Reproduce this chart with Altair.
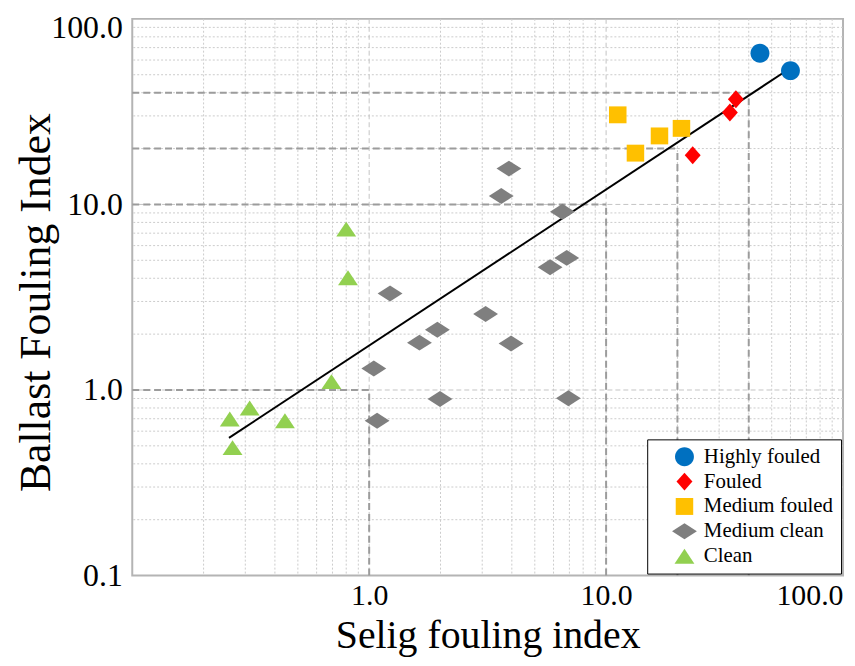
import altair as alt
import pandas as pd

# ---- data ----
categories = ["Highly fouled", "Fouled", "Medium fouled", "Medium clean", "Clean"]
colors = ["#0070C0", "#FF0000", "#FFC000", "#7F7F7F", "#92D050"]

highly_x = [44.6, 60.0]
highly_y = [65.3, 52.6]
fouled_x = [35.3, 33.3, 23.2]
fouled_y = [36.9, 31.3, 18.4]
mfouled_x = [11.2, 13.3, 16.8, 20.8]
mfouled_y = [30.4, 18.9, 23.4, 25.7]
mclean_x = [3.89, 3.61, 6.54, 6.82, 5.80, 1.225, 3.10, 1.94, 1.63, 3.97, 1.046, 1.99, 6.93, 1.08]
mclean_y = [15.6, 11.1, 9.14, 5.15, 4.59, 3.31, 2.57, 2.11, 1.80, 1.78, 1.306, 0.895, 0.903, 0.683]
clean_x = [0.80, 0.814, 0.693, 0.313, 0.258, 0.441, 0.265]
clean_y = [7.36, 4.03, 1.109, 0.799, 0.698, 0.683, 0.489]

fit_x = [0.256, 56.8]
fit_y = [0.552, 51.9]

thresholds = [1, 10, 20, 40]
axis_min = 0.1
major_ticks = [0.1, 1, 10, 100]
x_label_ticks = [1, 10, 100]
inner_major = [1, 10]
minor_grid = [0.2, 0.3, 0.4, 0.5, 0.6, 0.7, 0.8, 0.9,
              2, 3, 4, 5, 6, 7, 8, 9,
              20, 30, 40, 50, 60, 70, 80, 90]

shapes = [
    "M-0.95,0A0.95,0.95,0,1,1,0.95,0A0.95,0.95,0,1,1,-0.95,0Z",
    "M0,-0.9L0.8,0L0,0.9L-0.8,0Z",
    "M-0.88,-0.85H0.88V0.85H-0.88Z",
    "M-1.25,0L0,-0.8L1.25,0L0,0.8Z",
    "M0,-0.75L1,0.75L-1,0.75Z",
]

# ---- tables ----
rows = []
for cat, xs, ys in [("Highly fouled", highly_x, highly_y),
                    ("Fouled", fouled_x, fouled_y),
                    ("Medium fouled", mfouled_x, mfouled_y),
                    ("Medium clean", mclean_x, mclean_y),
                    ("Clean", clean_x, clean_y)]:
    for a, b in zip(xs, ys):
        rows.append({"sfi": a, "bfi": b, "cls": cat})
pts = pd.DataFrame(rows)

fit = pd.DataFrame({"sfi": fit_x, "bfi": fit_y})
minor_df = pd.DataFrame({"v": minor_grid})
major_df = pd.DataFrame({"v": inner_major})
hseg = pd.DataFrame({"x": [axis_min] * len(thresholds), "x2": thresholds, "y": thresholds})
vseg = pd.DataFrame({"x": thresholds, "y": [axis_min] * len(thresholds), "y2": thresholds})

FONT = "Liberation Serif"
xscale = alt.Scale(type="log", domain=[0.1, 100], nice=False)
yscale = alt.Scale(type="log", domain=[0.1, 100], nice=False)

x_axis = alt.Axis(values=x_label_ticks, format=".1f", grid=False, ticks=False, domain=False,
                  labelPadding=5, labelFontSize=30, title="Selig fouling index", titleFontSize=40,
                  titleBaseline="alphabetic", titleY=72)
y_axis = alt.Axis(values=major_ticks, format=".1f", grid=False, ticks=False, domain=False,
                  labelPadding=10, title="Ballast Fouling Index",
                  labelBaseline={"condition": {"test": "datum.value >= 100", "value": "top"},
                                 "value": "middle"},
                  labelOffset={"condition": {"test": "datum.value >= 100", "value": -6},
                               "value": 0},
                  titleBaseline="alphabetic", titleX=-83, titleY=285, titleAngle=270)

minor_v = alt.Chart(minor_df).mark_rule(color="#cccccc", strokeDash=[2, 2], strokeWidth=1).encode(
    x=alt.X("v:Q", scale=xscale, axis=x_axis))
minor_h = alt.Chart(minor_df).mark_rule(color="#cccccc", strokeDash=[2, 2], strokeWidth=1).encode(
    y=alt.Y("v:Q", scale=yscale, axis=y_axis))
major_v = alt.Chart(major_df).mark_rule(color="#c4c4c4", strokeDash=[5, 3], strokeWidth=1).encode(
    x=alt.X("v:Q"))
major_h = alt.Chart(major_df).mark_rule(color="#c4c4c4", strokeDash=[5, 3], strokeWidth=1).encode(
    y=alt.Y("v:Q"))

thr_h = alt.Chart(hseg).mark_rule(color="#9c9c9c", strokeDash=[7, 4], strokeWidth=2).encode(
    x="x:Q", x2="x2:Q", y="y:Q")
thr_v = alt.Chart(vseg).mark_rule(color="#9c9c9c", strokeDash=[7, 4], strokeWidth=2).encode(
    x="x:Q", y="y:Q", y2="y2:Q")

fit_line = alt.Chart(fit).mark_line(color="black", strokeWidth=2).encode(
    x="sfi:Q", y="bfi:Q")

legend = alt.Legend(title=None, orient="bottom-right", offset=2, padding=7,
                    symbolOffset=20, strokeColor="black", fillColor="white",
                    labelFont=FONT, labelFontSize=21, labelColor="black",
                    rowPadding=3, symbolSize=400, symbolStrokeWidth=0, labelOffset=9)

points = alt.Chart(pts).mark_point(filled=True, size=400, opacity=1, strokeWidth=0).encode(
    x="sfi:Q", y="bfi:Q",
    color=alt.Color("cls:N", scale=alt.Scale(domain=categories, range=colors), legend=legend),
    shape=alt.Shape("cls:N", scale=alt.Scale(domain=categories, range=shapes), legend=legend),
)

chart = alt.layer(minor_v, minor_h, major_v, major_h, thr_h, thr_v, fit_line, points).properties(
    width=715, height=560,
    autosize=alt.AutoSizeParams(type="none"),
    padding={"left": 125, "top": 9, "right": 4, "bottom": 81},
).configure_axis(
    labelFont=FONT, labelFontSize=32, labelColor="black",
    titleFont=FONT, titleFontSize=44, titleFontWeight="normal", titleColor="black",
).configure_view(stroke="#b4b4b4", strokeWidth=2)

chart.save("out.html", embed_options={"renderer": "svg", "actions": False})
